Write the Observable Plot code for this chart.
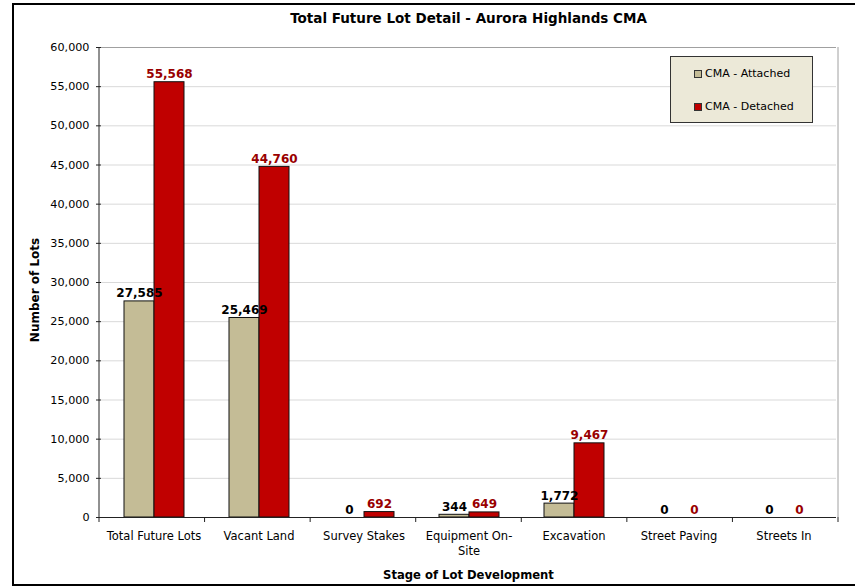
<!DOCTYPE html>
<html>
<head>
<meta charset="utf-8">
<script src="https://cdn.jsdelivr.net/npm/d3@7"></script>
<script src="https://cdn.jsdelivr.net/npm/@observablehq/plot@0.6"></script>
<style>
  html, body { margin: 0; padding: 0; background: #fff; overflow: hidden; }
  #chart { position: relative; width: 855px; height: 587px; font-family: "DejaVu Sans", Verdana, sans-serif; color: #000; }
  #chart svg { position: absolute; left: 0; top: 0; }
  #border { position: absolute; left: 12px; top: 3px; width: 900px; height: 583px; border: 2px solid #000; box-sizing: border-box; pointer-events: none; }
  #title { position: absolute; top: 10px; left: 99px; width: 739px; text-align: center; font-weight: bold; font-size: 13.5px; }
  #xlabel { position: absolute; top: 568px; left: 99px; width: 739px; text-align: center; font-weight: bold; font-size: 11.6px; }
  #ylabel { position: absolute; left: 35px; top: 290px; transform: translate(-50%, -50%) rotate(-90deg); white-space: nowrap; font-weight: bold; font-size: 12px; }
  #legend { position: absolute; left: 670px; top: 56px; width: 143px; height: 67px; box-sizing: border-box; background: #ECE9D8; border: 1px solid #333; font-size: 11px; }
  #legend .item { position: absolute; left: 23px; display: flex; align-items: center; white-space: nowrap; }
  #legend .sw { width: 6px; height: 6px; border: 1px solid #333; margin-right: 3px; }
</style>
</head>
<body>
<div id="chart">
  <div id="title">Total Future Lot Detail - Aurora Highlands CMA</div>
  <div id="ylabel">Number of Lots</div>
  <div id="xlabel">Stage of Lot Development</div>
  <div id="legend"></div>
  <div id="border"></div>
</div>
<script>
// Stages of lot development along the x axis
const stages = ["Total Future Lots", "Vacant Land", "Survey Stakes", "Equipment On-Site", "Excavation", "Street Paving", "Streets In"];
// The two lot types
const series = ["CMA - Attached", "CMA - Detached"];
const seriesColors = ["#C4BC96", "#C00000"];
const labelColors = ["#000000", "#990000"];
// Lot counts per stage
const attached = [27585, 25469, 0, 344, 1772, 0, 0];
const detached = [55568, 44760, 692, 649, 9467, 0, 0];
// Y axis ticks
const yTicks = [0, 5000, 10000, 15000, 20000, 25000, 30000, 35000, 40000, 45000, 50000, 55000, 60000];

const rows = stages.flatMap((stage, i) => [
  {stage, series: series[0], value: attached[i]},
  {stage, series: series[1], value: detached[i]}
]);

const fmt = d3.format(",");
const font = "DejaVu Sans, Verdana, sans-serif";

const plot = Plot.plot({
  width: 855,
  height: 587,
  marginLeft: 99,
  marginRight: 17,
  marginTop: 47,
  marginBottom: 70,
  style: {fontFamily: font, fontSize: "11px", color: "#000", background: "transparent", overflow: "visible"},
  fx: {domain: stages, padding: 0, label: null},
  x: {domain: series, paddingInner: 0, paddingOuter: 0.73, axis: null},
  y: {domain: [0, 60000], label: null},
  color: {domain: series, range: seriesColors},
  marks: [
    Plot.gridY(yTicks, {stroke: "#d9d9d9", strokeOpacity: 1}),
    Plot.ruleY([60000], {stroke: "#a0a0a0"}),
    Plot.barY(rows, {fx: "stage", x: "series", y: "value", fill: "series", stroke: "#111", strokeWidth: 1}),
    Plot.ruleY([0], {stroke: "#222"}),
    ...series.map((s, k) => Plot.text(rows.filter(d => d.series === s), {
      fx: "stage", x: "series", y: "value",
      text: d => fmt(d.value),
      lineAnchor: "bottom", dy: -4,
      fill: labelColors[k], fontWeight: "bold", fontSize: 12
    })),
    Plot.axisY(yTicks, {tickFormat: fmt, tickSize: 5, tickPadding: 7, label: null, fontSize: 11.2, stroke: "#222"}),
    Plot.axisFx({anchor: "bottom", tickSize: 0, tickPadding: 11, label: null, fontSize: 11.5, lineHeight: 1.35,
                 tickFormat: d => d.replace("On-Site", "On-\nSite")})
  ]
});

// Category boundary ticks and the vertical edges of the plot area, from the plot's own scales
const fx = plot.scale("fx");
const ys = plot.scale("y");
const yBottom = ys.range[0], yTop = ys.range[1];
const x0 = fx.range[0], x1 = fx.range[1];
const step = (x1 - x0) / stages.length;
const svg = d3.select(plot);
const g = svg.append("g");
for (let i = 0; i <= stages.length; i++) {
  const xb = x0 + i * step;
  g.append("line").attr("x1", xb).attr("x2", xb).attr("y1", yBottom).attr("y2", yBottom + 5).attr("stroke", "#222");
}
g.append("line").attr("x1", x0).attr("x2", x0).attr("y1", yTop).attr("y2", yBottom).attr("stroke", "#222");
g.append("line").attr("x1", x1).attr("x2", x1).attr("y1", yTop).attr("y2", yBottom).attr("stroke", "#a0a0a0");

const chart = document.getElementById("chart");
chart.insertBefore(plot, chart.firstChild);

// Legend
const legend = document.getElementById("legend");
series.forEach((s, k) => {
  const item = document.createElement("div");
  item.className = "item";
  item.style.top = (k === 0 ? 10 : 43) + "px";
  const sw = document.createElement("span");
  sw.className = "sw";
  sw.style.background = seriesColors[k];
  const label = document.createElement("span");
  label.textContent = s;
  item.appendChild(sw);
  item.appendChild(label);
  legend.appendChild(item);
});
</script>
</body>
</html>
